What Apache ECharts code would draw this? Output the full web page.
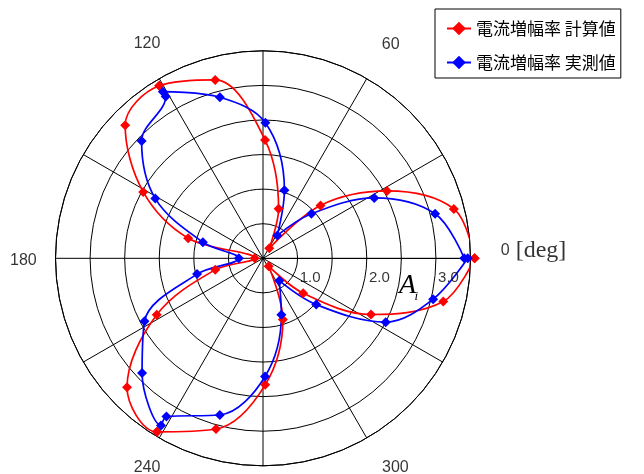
<!DOCTYPE html>
<html>
<head>
<meta charset="utf-8">
<script src="https://cdn.jsdelivr.net/npm/echarts@6/dist/echarts.min.js"></script>
<style>
  html, body { margin: 0; padding: 0; background: #fff; }
  #chart { width: 644px; height: 474px; }
</style>
</head>
<body>
<div id="chart"></div>
<script>
// Measurement angles [deg]; 121 and 238.6 appear twice where measurement runs overlap
const angles = [0, 14.5, 28.5, 42.6, 58, 72.5, 89, 105, 121, 121, 136, 151, 165, 180,
                193.5, 208, 223.5, 238.6, 238.6, 254.6, 271, 288, 306, 319, 332.5, 346.5, 360];

// Current amplification ratio A_i, calculated
const calculated = [3.06, 2.85, 2.04, 1.13, 0.17, 0.75, 1.71, 2.67, 2.91, 2.91, 2.77, 1.98, 1.12, 0.12,
                    0.71, 1.74, 2.71, 2.94, 2.94, 2.56, 1.83, 0.93, 0.14, 0.77, 1.76, 2.68, 3.06];

// Current amplification ratio A_i, measured
const measured = [2.91, 2.57, 1.83, 0.95, 0.39, 1.03, 1.96, 2.41, 2.81, 2.73, 2.44, 1.78, 0.90, 0.35,
                  0.98, 1.94, 2.41, 2.83, 2.68, 2.35, 1.71, 0.86, 0.40, 1.02, 2.00, 2.53, 2.96];

const seriesNames = ['電流増幅率 計算値', '電流増幅率 実測値'];

// Angle tick labels
const angleTicks = [0, 60, 120, 180, 240, 300];
const angleTickLabels = ['0', '60', '120', '180', '240', '300'];
const angleUnit = '[deg]';

// Radius tick labels
const radiusTicks = [1, 2, 3];
const radiusTickLabels = ['1.0', '2.0', '3.0'];

// ---- layout / styling ----
const CENTER = [263, 258.3];
const RADIUS = 207.5;
const ANGLE_LABEL_R = 3.5;
const angleLabelNudge = [[-4.3, -7.3], [6.6, -3.6], [5.1, -5.3], [2.5, 2.5], [5.1, 0], [11.3, 0]];
const radiusLabelNudge = [-22, 19.5];
const SANS = '"Liberation Sans", Arial, sans-serif';
const SERIF = '"Liberation Serif", "Times New Roman", serif';
const CJK = '"Noto Sans CJK JP", sans-serif';

const chart = echarts.init(document.getElementById('chart'), null, { renderer: 'canvas' });

function pairs(values) {
  return values.map((v, i) => [v, angles[i]]);
}

function curve(name, values, color) {
  return {
    name: name,
    type: 'line',
    coordinateSystem: 'polar',
    data: pairs(values),
    smooth: 0.35,
    clip: false,
    symbol: 'diamond',
    symbolSize: 10,
    lineStyle: { color: color, width: 1.7 },
    itemStyle: { color: color },
    z: 3
  };
}

const option = {
  backgroundColor: '#fff',
  animation: false,
  polar: { center: CENTER, radius: RADIUS },
  angleAxis: {
    type: 'value',
    min: 0,
    max: 360,
    interval: 30,
    startAngle: 0,
    clockwise: false,
    axisLine: { show: true, lineStyle: { color: '#000', width: 1 } },
    axisTick: { show: false },
    axisLabel: { show: false },
    splitLine: { show: true, lineStyle: { color: '#000', width: 1 } }
  },
  radiusAxis: {
    type: 'value',
    min: 0,
    max: 3,
    interval: 0.5,
    axisLine: { show: true, lineStyle: { color: '#000', width: 1 } },
    axisTick: { show: false },
    axisLabel: { show: false },
    splitLine: { show: true, lineStyle: { color: '#000', width: 1 } }
  },
  legend: {
    data: seriesNames,
    orient: 'vertical',
    left: 435,
    top: 9,
    backgroundColor: '#fff',
    borderColor: '#000',
    borderWidth: 1,
    borderRadius: 0,
    padding: [11, 5, 7, 11],
    itemWidth: 24,
    itemHeight: 17,
    itemGap: 17,
    textStyle: { fontFamily: CJK, fontSize: 17, color: '#000', lineHeight: 17 }
  },
  graphic: [
    {
      type: 'text', x: 399, y: 285.5, z: 10,
      style: { text: 'A', font: 'italic 28px ' + SERIF, fill: '#000', align: 'left', verticalAlign: 'middle' }
    },
    {
      type: 'text', x: 414.5, y: 296.5, z: 10,
      style: { text: 'i', font: 'italic 13px ' + SERIF, fill: '#000', align: 'left', verticalAlign: 'middle' }
    }
  ],
  series: [
    curve(seriesNames[0], calculated, '#ff0000'),
    curve(seriesNames[1], measured, '#0000ff'),
    {
      // angle tick labels
      type: 'scatter',
      coordinateSystem: 'polar',
      silent: true,
      clip: false,
      symbolSize: 1,
      itemStyle: { color: 'rgba(0,0,0,0)' },
      data: angleTicks.map((a, i) => ({
        value: [ANGLE_LABEL_R, a],
        label: {
          offset: angleLabelNudge[i],
          align: a === 0 ? 'left' : 'center',
          formatter: a === 0 ? angleTickLabels[i] + '{u| ' + angleUnit + '}' : angleTickLabels[i]
        }
      })),
      label: {
        show: true,
        position: 'inside',
        color: '#000',
        fontFamily: SANS,
        fontSize: 16,
        rich: { u: { fontFamily: SERIF, fontSize: 24, color: '#000' } }
      },
      z: 5
    },
    {
      // radius tick labels
      type: 'scatter',
      coordinateSystem: 'polar',
      silent: true,
      clip: false,
      symbolSize: 1,
      itemStyle: { color: 'rgba(0,0,0,0)' },
      data: radiusTicks.map((r, i) => ({
        value: [r, 0],
        label: { formatter: radiusTickLabels[i] }
      })),
      label: {
        show: true,
        position: 'inside',
        offset: radiusLabelNudge,
        color: '#000',
        fontFamily: SANS,
        fontSize: 15
      },
      z: 5
    }
  ]
};

chart.setOption(option);
</script>
</body>
</html>
